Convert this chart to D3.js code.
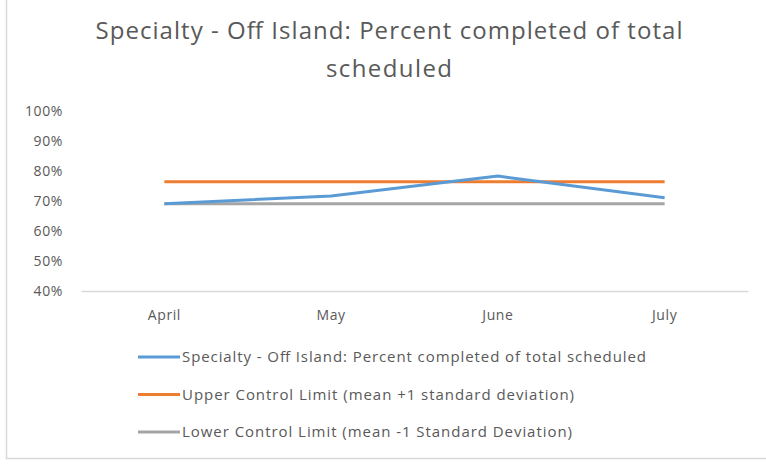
<!DOCTYPE html>
<html>
<head>
<meta charset="utf-8">
<script src="https://cdn.jsdelivr.net/npm/d3@7"></script>
<style>
  body { margin: 0; background: #fff; }
  text { font-family: "Open Sans", "Noto Sans", sans-serif; fill: #595959; }
</style>
</head>
<body>
<div id="chart"></div>
<script>
// values
const months = ["April", "May", "June", "July"];
const completed = [0.691, 0.717, 0.783, 0.711];
const upperLimit = [0.764, 0.764, 0.764, 0.764];
const lowerLimit = [0.691, 0.691, 0.691, 0.691];
const yTicks = [0.4, 0.5, 0.6, 0.7, 0.8, 0.9, 1.0];
const seriesNames = [
  "Specialty - Off Island: Percent completed of total scheduled",
  "Upper Control Limit (mean +1 standard deviation)",
  "Lower Control Limit (mean -1 Standard Deviation)"
];
const seriesColors = ["#5B9BD5", "#ED7D31", "#A5A5A5"];
const legendWidths = [464, 392, 390];

var W = 766, H = 466;
var margin = { top: 111, right: 18, bottom: 175, left: 81 },
    width = W - margin.left - margin.right,
    height = H - margin.top - margin.bottom;

var svg = d3.select("#chart")
    .append("svg")
    .attr("width", W)
    .attr("height", H);

// chart frame (only left and bottom edges show)
svg.append("path")
    .attr("d", "M6.5,-5V458.5H780")
    .attr("fill", "none")
    .attr("stroke", "#D9D9D9")
    .attr("stroke-width", 1.5);

svg.append("text")
    .attr("x", 389).attr("y", 39)
    .attr("text-anchor", "middle")
    .attr("textLength", 587)
    .style("font-size", "24px")
    .text("Specialty - Off Island: Percent completed of total");
svg.append("text")
    .attr("x", 389).attr("y", 77)
    .attr("text-anchor", "middle")
    .attr("textLength", 126)
    .style("font-size", "24px")
    .text("scheduled");

var g = svg.append("g")
    .attr("transform", "translate(" + margin.left + "," + margin.top + ")");

var x = d3.scaleBand().domain(months).range([0, width]);
var y = d3.scaleLinear().domain([0.4, 1.0]).range([height, 0]);

var yAxis = g.append("g")
    .call(d3.axisLeft(y).tickValues(yTicks).tickFormat(d3.format(".0%")).tickSize(0).tickPadding(18));
yAxis.select(".domain").remove();
yAxis.selectAll("text").style("font-size", "14px").style("letter-spacing", "0.6px").style("fill", "#595959");

var xAxis = g.append("g")
    .attr("transform", "translate(0," + height + ")")
    .call(d3.axisBottom(x).tickSize(0).tickPadding(19));
xAxis.select(".domain").attr("stroke", "#D9D9D9").attr("stroke-width", 1.5);
xAxis.selectAll("text").style("font-size", "14px").style("letter-spacing", "0.6px").style("fill", "#595959");

var line = d3.line()
    .x(function (d, i) { return x(months[i]) + x.bandwidth() / 2; })
    .y(function (d) { return y(d); });

[lowerLimit, upperLimit, completed].forEach(function (s, k) {
    var col = [seriesColors[2], seriesColors[1], seriesColors[0]][k];
    g.append("path")
        .datum(s)
        .attr("d", line)
        .attr("fill", "none")
        .attr("stroke", col)
        .attr("stroke-width", 3)
        .attr("stroke-linejoin", "round");
});

var legend = svg.append("g").attr("transform", "translate(138,357)");
seriesNames.forEach(function (name, i) {
    var row = legend.append("g").attr("transform", "translate(0," + (i * 37.5) + ")");
    row.append("line")
        .attr("x1", 0).attr("x2", 42)
        .attr("stroke", seriesColors[i])
        .attr("stroke-width", 3);
    row.append("text")
        .attr("x", 44).attr("dy", "0.35em")
        .attr("textLength", legendWidths[i])
        .style("font-size", "15px")
        .text(name);
});
</script>
</body>
</html>
